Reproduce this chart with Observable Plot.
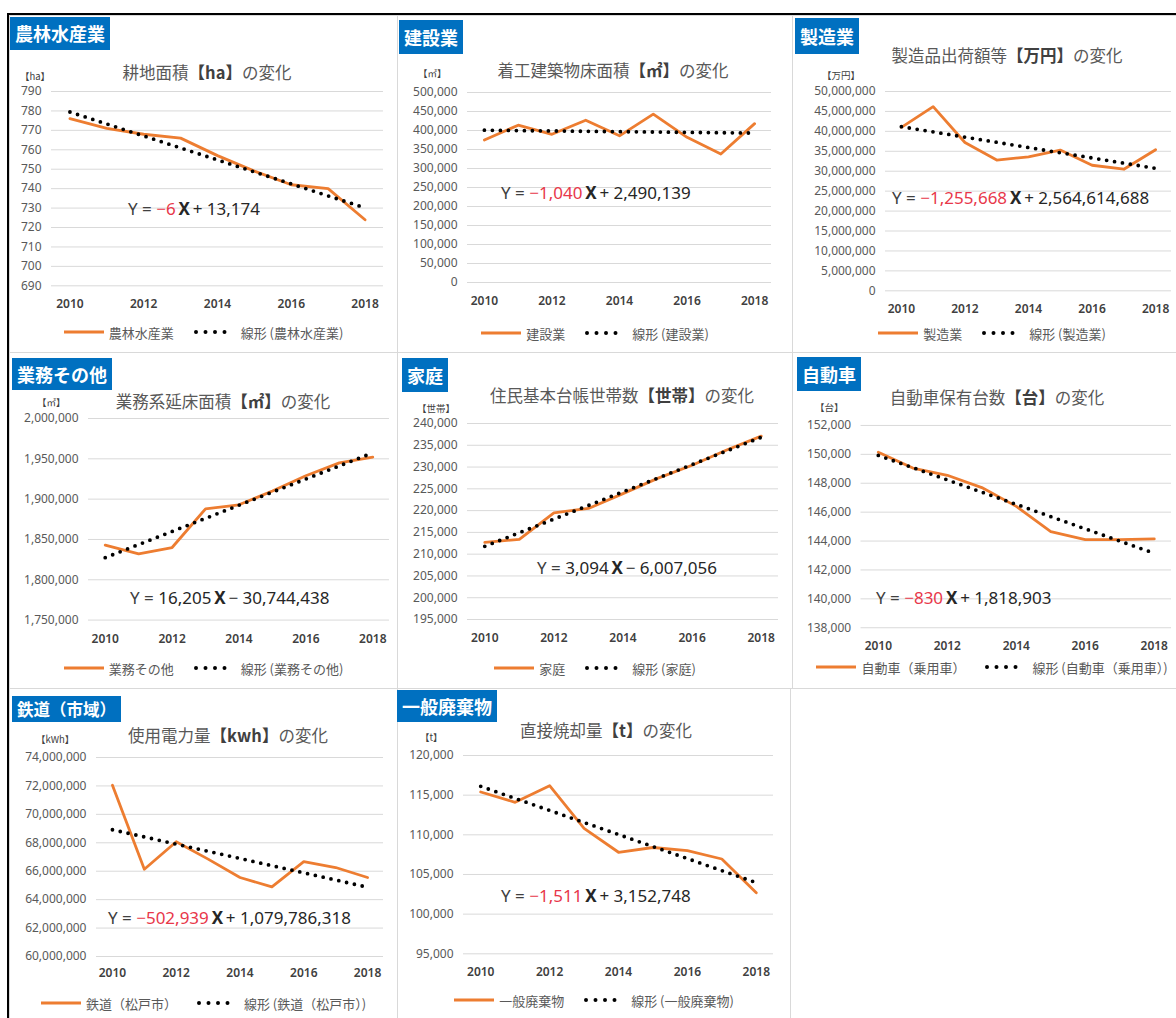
<!DOCTYPE html>
<html lang="ja">
<head>
<meta charset="utf-8">
<script src="https://cdn.jsdelivr.net/npm/d3@7"></script>
<script src="https://cdn.jsdelivr.net/npm/@observablehq/plot@0.6"></script>
<style>
html,body{margin:0;padding:0;background:#fff;}
#root{position:relative;width:1176px;height:1018px;overflow:hidden;background:#fff;font-family:"Noto Sans CJK JP","Noto Sans",sans-serif;}
.panel{position:absolute;border:1px solid #d9d9d9;box-sizing:border-box;}
.frame{position:absolute;left:7px;top:13px;width:1200px;height:1100px;border-top:2px solid #000;border-left:2px solid #000;}
.badge{position:absolute;background:#0070C0;color:#fff;font-weight:700;font-size:18px;padding:0 5px;white-space:nowrap;box-sizing:border-box;}
.title{position:absolute;transform:translate(-50%,-50%);font-size:16.5px;color:#595959;white-space:nowrap;}
.title b{color:#404040;font-weight:700}
.unit{position:absolute;transform:translateY(-50%);font-size:9.5px;line-height:11px;color:#404040;white-space:nowrap;}
.eq{position:absolute;transform:translateY(-50%);font-family:"Noto Sans",sans-serif;font-size:17px;color:#404040;white-space:nowrap;line-height:20px;}
.eq .neg{color:#E8374A}
.eq .pos{color:#262626}
.eq .x{font-weight:700;color:#262626}
.eq .c{color:#262626}
.legend{position:absolute;display:flex;align-items:center;justify-content:center;font-size:13px;color:#595959;white-space:nowrap;height:20px;}
.legend svg{display:block}
.chart{position:absolute;}
.chart svg{overflow:visible}
</style>
</head>
<body>
<div id="root"></div>
<script>
// ---------- data ----------
const years = [2010, 2011, 2012, 2013, 2014, 2015, 2016, 2017, 2018];
const yearTicks = [2010, 2012, 2014, 2016, 2018];

const sectorLabels = ["農林水産業", "建設業", "製造業", "業務その他", "家庭", "自動車", "鉄道（市域）", "一般廃棄物"];
const titleMain = ["耕地面積", "着工建築物床面積", "製造品出荷額等", "業務系延床面積", "住民基本台帳世帯数", "自動車保有台数", "使用電力量", "直接焼却量"];
const titleUnit = ["【ha】", "【㎡】", "【万円】", "【㎡】", "【世帯】", "【台】", "【kwh】", "【t】"];
const titleSuffix = "の変化";
const axisUnits = ["【ha】", "【㎡】", "【万円】", "【㎡】", "【世帯】", "【台】", "【kWh】", "【t】"];
const seriesNames = ["農林水産業", "建設業", "製造業", "業務その他", "家庭", "自動車（乗用車）", "鉄道（松戸市）", "一般廃棄物"];

const agriValues = [776, 771, 768, 766, 757, 749, 742, 740, 724];
const constructionValues = [375000, 414000, 390000, 427000, 386000, 443000, 382000, 338000, 418000];
const manufacturingValues = [41000000, 46200000, 37200000, 32800000, 33600000, 35300000, 31500000, 30500000, 35400000];
const officeValues = [1843000, 1832000, 1840000, 1888000, 1893000, 1910000, 1929000, 1945000, 1952000];
const householdValues = [212700, 213400, 219500, 220500, 223900, 227400, 230400, 233900, 237100];
const carValues = [150150, 149050, 148550, 147700, 146400, 144650, 144100, 144100, 144150];
const railValues = [72050000, 66140000, 68070000, 66850000, 65560000, 64900000, 66680000, 66260000, 65560000];
const wasteValues = [115400, 114100, 116200, 110800, 107800, 108400, 108000, 106950, 102700];
const seriesValues = [agriValues, constructionValues, manufacturingValues, officeValues, householdValues, carValues, railValues, wasteValues];

const yMin = [690, 0, 0, 1750000, 195000, 138000, 60000000, 95000];
const yMax = [790, 500000, 50000000, 2000000, 240000, 152000, 74000000, 120000];
const yStep = [10, 50000, 5000000, 50000, 5000, 2000, 2000000, 5000];

const eqSlope = ["−6", "−1,040", "−1,255,668", "16,205", "3,094", "−830", "−502,939", "−1,511"];
const eqIntercept = ["+ 13,174", "+ 2,490,139", "+ 2,564,614,688", "− 30,744,438", "− 6,007,056", "+ 1,818,903", "+ 1,079,786,318", "+ 3,152,748"];

// ---------- layout (positions in page pixels) ----------
const layout = [
  {panel:[9,15,389,338],  badge:[10,17,33],  title:[207,72],  unit:[20,76],  frame:[51,383,90.7,285],    xpad:14, eq:[128,209], legend:332},
  {panel:[397,15,396,338],badge:[399,20,34], title:[613,70],  unit:[418,73], frame:[467,771,91.7,281.7],  xpad:14, eq:[501,193], legend:333},
  {panel:[792,15,400,338],badge:[795,18,36], title:[1007,55], unit:[822,75], frame:[885,1171,90.7,290],   xpad:14, eq:[892,198], legend:333},
  {panel:[9,352,389,337], badge:[12,358,32], title:[223,401], unit:[37,402], frame:[88,389,417.7,619.3],  xpad:14, eq:[130,598], legend:668},
  {panel:[397,352,396,337],badge:[402,358,34],title:[622,395],unit:[417,408],frame:[467,778,423.3,619.3], xpad:14, eq:[537,568], legend:668},
  {panel:[792,352,400,337],badge:[797,357,34],title:[997,397],unit:[815,407],frame:[861,1173,425,628.3],  xpad:14, eq:[876,598], legend:667},
  {panel:[9,688,389,340], badge:[12,696,26], title:[228,735], unit:[36,739], frame:[96,383,756.7,955.7],  xpad:12, eq:[108,918], legend:1003},
  {panel:[397,688,394,340],badge:[397,690,32],title:[606,730],unit:[420,737],frame:[463,773,755,953.3],   xpad:14, eq:[501,896], legend:1000}
];

const root = document.getElementById("root");
function add(cls, css, html) {
  const d = document.createElement("div");
  d.className = cls;
  Object.assign(d.style, css);
  if (html != null) d.innerHTML = html;
  root.appendChild(d);
  return d;
}

// panel borders first
layout.forEach(L => {
  const [x, y, w, h] = L.panel;
  add("panel", {left: x + "px", top: y + "px", width: w + "px", height: h + "px"});
});
add("frame", {});

const fmt = d3.format(",");
const ML = 90, MR = 5, MT = 10, MB = 32;

layout.forEach((L, i) => {
  const [gx0, gx1, gy0, gy1] = L.frame;
  const rows = years.map((year, k) => ({year, value: seriesValues[i][k]}));
  const yt = d3.range(yMin[i], yMax[i] + yStep[i] / 2, yStep[i]);
  const fig = Plot.plot({
    width: gx1 - gx0 + ML + MR,
    height: gy1 - gy0 + MT + MB,
    marginLeft: ML, marginRight: MR, marginTop: MT, marginBottom: MB,
    style: {background: "transparent", fontFamily: "'Noto Sans', sans-serif", fontSize: "12px", color: "#595959", overflow: "visible"},
    x: {type: "linear", domain: [2009.5, 2018.5]},
    y: {domain: [yMin[i], yMax[i]]},
    marks: [
      Plot.gridY(yt, {stroke: "#d9d9d9", strokeOpacity: 1, strokeWidth: 1}),
      Plot.axisY(yt, {tickSize: 0, tickPadding: 10, tickFormat: fmt, label: null, fontSize: 12}),
      Plot.axisX(yearTicks, {tickSize: 0, tickPadding: L.xpad, tickFormat: d => String(d), label: null, fontSize: 12, fontWeight: 600, fill: "#404040"}),
      Plot.lineY(rows, {x: "year", y: "value", stroke: "#ED7D31", strokeWidth: 2.8, strokeLinejoin: "round"}),
      Plot.linearRegressionY(rows, {x: "year", y: "value", stroke: "#000", strokeWidth: 3.8, strokeDasharray: "0 8", strokeLinecap: "round", ci: 0})
    ]
  });
  const holder = add("chart", {left: (gx0 - ML) + "px", top: (gy0 - MT) + "px"});
  holder.appendChild(fig);

  // badge
  const [bx, by, bh] = L.badge;
  add("badge", {left: bx + "px", top: by + "px", height: bh + "px", lineHeight: bh + "px", fontSize: (i === 6 ? 16.5 : 18) + "px"}, sectorLabels[i]);
  // title
  add("title", {left: L.title[0] + "px", top: L.title[1] + "px"}, `${titleMain[i]}<b>${titleUnit[i]}</b>${titleSuffix}`);
  // axis unit
  add("unit", {left: L.unit[0] + "px", top: L.unit[1] + "px"}, axisUnits[i]);
  // equation
  const neg = eqSlope[i].startsWith("−");
  add("eq", {left: L.eq[0] + "px", top: L.eq[1] + "px"},
    `Y = <span class="${neg ? "neg" : "pos"}">${eqSlope[i]}</span>&#8201;<span class="x">X</span>&#8201;<span class="c">${eqIntercept[i]}</span>`);
  // legend
  const [px, , pw] = L.panel;
  add("legend", {left: px + "px", width: pw + "px", top: (L.legend - 10) + "px"},
    `<svg width="40" height="8"><line x1="0" y1="4" x2="40" y2="4" stroke="#ED7D31" stroke-width="3"/></svg>` +
    `<span style="margin-left:5px">${seriesNames[i]}</span>` +
    `<svg width="42" height="8" style="margin-left:20px"><line x1="2" y1="4" x2="40" y2="4" stroke="#000" stroke-width="4" stroke-dasharray="0 9.5" stroke-linecap="round"/></svg>` +
    `<span style="margin-left:5px">線形 (${seriesNames[i]})</span>`);
});
</script>
</body>
</html>
